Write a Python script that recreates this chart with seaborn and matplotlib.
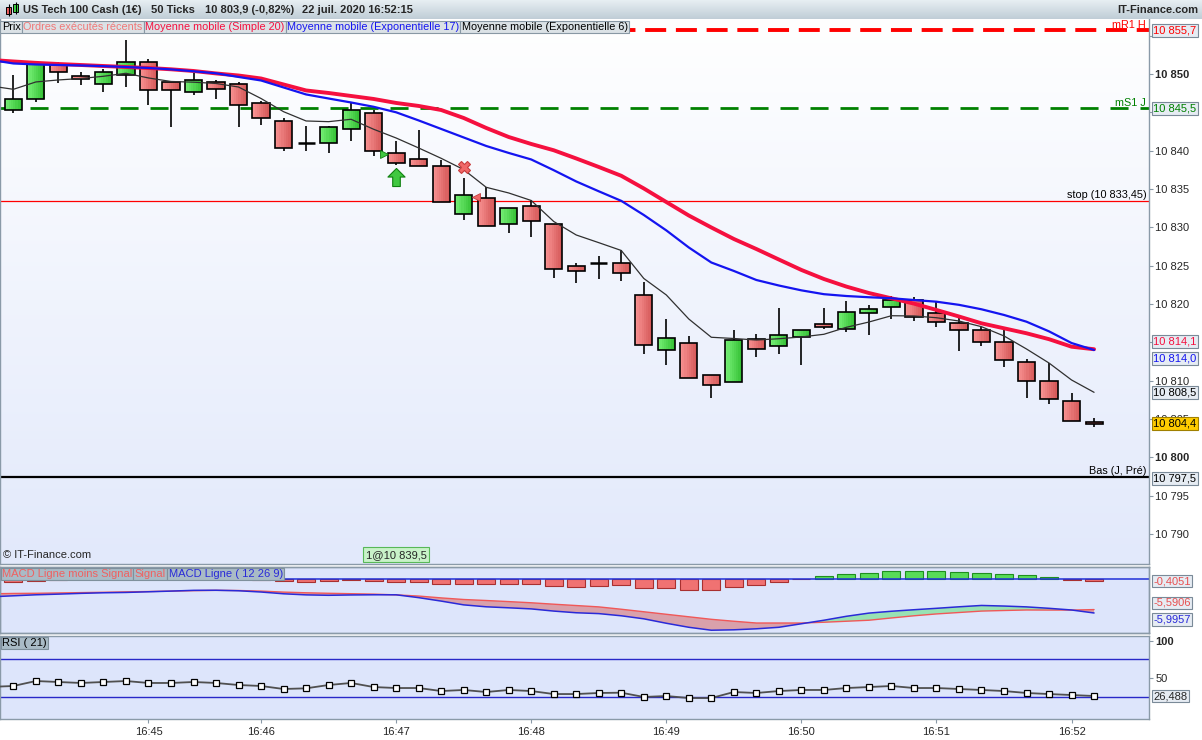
import numpy as np
import pandas as pd
import matplotlib
matplotlib.use("Agg")
import matplotlib.pyplot as plt
import matplotlib.transforms as mtransforms
from matplotlib.colors import LinearSegmentedColormap, to_rgb
from matplotlib.patches import Rectangle
from matplotlib.path import Path
import seaborn as sns

W, H = 1202, 740

# ---------------- data (50-tick candles) ----------------
opens = [10845.3, 10846.7, 10851.3, 10849.8, 10848.7, 10849.9, 10851.5, 10848.9, 10847.6, 10848.9,
         10848.7, 10846.2, 10843.9, 10841.0, 10841.0, 10842.8, 10844.9, 10839.7, 10838.9, 10838.0,
         10831.8, 10833.8, 10830.4, 10832.8, 10830.4, 10824.9, 10825.4, 10825.3, 10821.2, 10814.0,
         10814.9, 10810.8, 10809.8, 10815.4, 10814.5, 10815.7, 10817.4, 10816.8, 10818.8, 10819.6,
         10820.5, 10818.8, 10817.5, 10816.6, 10815.0, 10812.5, 10809.9, 10807.4, 10804.6]
highs = [10849.9, 10851.4, 10851.6, 10850.3, 10850.6, 10854.4, 10852.0, 10848.9, 10850.1, 10849.2,
         10848.9, 10846.5, 10844.2, 10843.2, 10843.2, 10846.4, 10845.3, 10841.3, 10842.7, 10838.8,
         10836.4, 10835.2, 10832.5, 10833.6, 10830.4, 10825.3, 10826.3, 10827.0, 10822.9, 10818.0,
         10815.8, 10810.8, 10816.6, 10816.1, 10819.5, 10816.6, 10819.5, 10820.4, 10819.9, 10821.0,
         10820.9, 10820.4, 10818.3, 10817.0, 10817.0, 10812.8, 10812.3, 10808.4, 10805.1]
lows = [10844.9, 10846.4, 10848.8, 10848.6, 10847.6, 10848.3, 10845.9, 10843.1, 10847.3, 10846.7,
        10843.1, 10843.4, 10839.9, 10840.0, 10839.7, 10841.3, 10839.3, 10838.1, 10838.0, 10833.3,
        10830.9, 10830.2, 10829.2, 10828.8, 10823.4, 10822.8, 10823.3, 10823.0, 10813.5, 10812.0,
        10810.4, 10807.7, 10809.8, 10813.1, 10813.5, 10812.0, 10816.8, 10816.3, 10816.0, 10818.0,
        10817.8, 10817.0, 10813.9, 10814.5, 10811.8, 10807.8, 10806.9, 10804.7, 10803.9]
closes = [10846.7, 10851.3, 10850.2, 10849.3, 10850.2, 10851.5, 10847.9, 10847.9, 10849.2, 10848.1,
          10845.9, 10844.2, 10840.4, 10841.0, 10843.1, 10845.3, 10840.0, 10838.4, 10838.0, 10833.3,
          10834.2, 10830.2, 10832.5, 10830.8, 10824.5, 10824.3, 10825.4, 10824.0, 10814.6, 10815.5,
          10810.4, 10809.5, 10815.3, 10814.1, 10816.0, 10816.6, 10817.0, 10819.0, 10819.4, 10820.5,
          10818.3, 10817.7, 10816.6, 10815.1, 10812.7, 10810.0, 10807.6, 10804.7, 10804.4]

# indicator values start one candle before the first visible one
ind_idx = list(range(-1, 49))
sma20 = [10851.83, 10851.63, 10851.45, 10851.30, 10851.17, 10851.04, 10850.91, 10850.78, 10850.61, 10850.39,
         10850.07, 10849.80, 10849.41, 10848.63, 10847.85, 10847.52, 10847.13, 10846.74, 10846.22, 10845.83,
         10845.30, 10844.26, 10842.96, 10841.78, 10840.87, 10840.05, 10838.98, 10837.87, 10836.72, 10835.07,
         10833.30, 10831.54, 10829.98, 10828.48, 10827.17, 10825.80, 10824.44, 10823.26, 10822.27, 10821.43,
         10820.74, 10820.05, 10819.22, 10818.37, 10817.48, 10816.83, 10816.18, 10815.41, 10814.43, 10814.10]
ema17 = [10851.83, 10851.37, 10851.24, 10851.17, 10851.11, 10851.02, 10850.91, 10850.78, 10850.60, 10850.35,
         10850.09, 10849.61, 10849.15, 10848.24, 10847.33, 10846.80, 10846.28, 10845.72, 10845.00, 10843.94,
         10842.83, 10841.72, 10840.61, 10839.70, 10838.85, 10837.45, 10835.98, 10834.70, 10833.45, 10831.61,
         10829.60, 10827.37, 10825.41, 10824.31, 10823.13, 10822.41, 10821.78, 10821.28, 10821.04, 10820.88,
         10820.75, 10820.52, 10820.30, 10819.89, 10819.31, 10818.57, 10817.69, 10816.43, 10814.91, 10814.00]
ema6 = [10848.43, 10848.00, 10848.96, 10849.22, 10849.41, 10849.70, 10850.09, 10849.48, 10849.02, 10848.93,
        10848.76, 10848.30, 10846.80, 10845.08, 10843.87, 10843.78, 10844.09, 10842.79, 10841.65, 10840.35,
        10839.00, 10837.53, 10835.22, 10834.48, 10833.50, 10830.76, 10829.00, 10828.00, 10826.98, 10823.33,
        10821.18, 10818.04, 10815.66, 10815.50, 10815.30, 10815.47, 10815.70, 10816.05, 10816.96, 10817.65,
        10818.47, 10818.44, 10818.21, 10817.78, 10817.04, 10815.83, 10814.13, 10812.30, 10810.09, 10808.48]
macd_line = [-4.07, -3.95, -3.83, -3.75, -3.66, -3.59, -3.55, -3.47, -3.39, -3.30,
             -3.29, -3.35, -3.50, -3.71, -3.84, -3.89, -3.85, -3.83, -3.83, -4.17,
             -4.58, -5.03, -5.26, -5.38, -5.51, -5.77, -5.97, -6.07, -6.33, -6.69,
             -7.22, -7.70, -8.05, -8.00, -7.88, -7.70, -7.28, -6.86, -6.39, -6.01,
             -5.79, -5.61, -5.44, -5.26, -5.10, -5.17, -5.27, -5.44, -5.64, -5.9957]
macd_signal = [-3.71, -3.67, -3.65, -3.61, -3.57, -3.53, -3.48, -3.44, -3.39, -3.34,
               -3.30, -3.32, -3.39, -3.51, -3.59, -3.65, -3.70, -3.75, -3.84, -3.98,
               -4.20, -4.39, -4.51, -4.64, -4.78, -4.95, -5.11, -5.27, -5.55, -5.85,
               -6.15, -6.45, -6.75, -6.98, -7.19, -7.19, -7.19, -7.10, -6.98, -6.86,
               -6.59, -6.33, -6.11, -5.94, -5.77, -5.70, -5.64, -5.65, -5.65, -5.5906]
rsi = [38.6, 39.8, 46.4, 45.1, 43.8, 45.1, 46.4, 43.8, 43.8, 45.1,
       43.8, 41.1, 39.8, 35.8, 36.7, 41.1, 43.8, 38.4, 37.1, 37.1,
       33.1, 34.5, 31.8, 34.5, 33.1, 29.1, 29.1, 30.5, 30.9, 25.2,
       26.5, 23.8, 23.8, 31.8, 30.5, 33.1, 34.5, 34.5, 37.1, 38.4,
       39.8, 37.1, 37.1, 35.8, 34.5, 33.1, 30.5, 29.1, 27.8, 26.488]
macd_hist = [-0.57, -0.35, -0.2, -0.1, 0.05, 0.2, 0.3, 0.3, 0.25, 0.15,
             0.0, -0.2, -0.40, -0.51, -0.34, -0.17, -0.34, -0.51, -0.51, -0.85,
             -0.85, -0.97, -0.97, -0.85, -1.19, -1.36, -1.19, -1.02, -1.53, -1.53,
             -1.87, -1.87, -1.36, -1.02, -0.51, -0.05, 0.39, 0.73, 1.01, 1.35,
             1.35, 1.35, 1.18, 1.01, 0.84, 0.56, 0.22, -0.17, -0.4051]

time_idx = [6, 11, 17, 23, 29, 35, 41, 47]
time_labels = ['16:45', '16:46', '16:47', '16:48', '16:49', '16:50', '16:51', '16:52']
price_ticks = list(range(10790, 10860, 5))

level_names = ['mR1 H', 'mS1 J', 'stop (10 833,45)', 'Bas (J, Pré)']
level_values = [10855.7, 10845.5, 10833.45, 10797.5]

order_idx = [17, 20]
order_price = [10839.5, 10834.0]


def fr(v, d=1):
    return f"{v:,.{d}f}".replace(',', ' ').replace('.', ',')


def px_rect(left, top, right, bottom):
    return [left / W, 1 - bottom / H, (right - left) / W, (bottom - top) / H]


sns.set_style("white")
plt.rcParams['font.family'] = ['Liberation Sans', 'DejaVu Sans']

fig = plt.figure(figsize=(W / 100, H / 100), dpi=100)
fig.patch.set_facecolor('white')
renderer = fig.canvas.get_renderer()

PR = 1149
SPINE = '#8a9aa8'
grad = np.linspace(0, 1, 256).reshape(-1, 1)

# header bar
HB = 19
ax_h = fig.add_axes(px_rect(0, 0, W, HB), zorder=5)
ax_h.imshow(grad, aspect='auto', extent=[0, W, HB, 0],
            cmap=LinearSegmentedColormap.from_list('hd', ['#e8eff3', '#bfcdd6']))
ax_h.set_xlim(0, W)
ax_h.set_ylim(HB, 0)
ax_h.set_axis_off()
ax_h.vlines([8.5, 15.5], [4, 2], [16, 14], color='black', lw=0.8)
ax_h.add_patch(Rectangle((6, 7), 5, 7, fc='#f06060', ec='black', lw=0.7))
ax_h.add_patch(Rectangle((13, 4), 5, 8, fc='#40d040', ec='black', lw=0.7))
for x, s in [(23, 'US Tech 100 Cash (1€)'), (151, '50 Ticks'),
             (205, '10 803,9 (-0,82%)'), (302, '22 juil. 2020 16:52:15')]:
    ax_h.text(x, 10, s, fontsize=8, fontweight='bold', va='center', ha='left')
ax_h.text(W - 4, 10, 'IT-Finance.com', fontsize=8, fontweight='bold', va='center', ha='right')

# ---------------- price panel ----------------
ax_bg = fig.add_axes(px_rect(0, 17, PR, 564), zorder=0)
ax_bg.imshow(grad, aspect='auto', cmap=LinearSegmentedColormap.from_list('bg', ['#ffffff', '#e2e9fb']))
ax_bg.set_axis_off()
ax_p = fig.add_axes(px_rect(0, 17, PR, 564), zorder=1)
ax_p.patch.set_alpha(0)

cdf = pd.DataFrame({'idx': range(len(opens)), 'open': opens, 'high': highs,
                    'low': lows, 'close': closes})
up = cdf[cdf.close > cdf.open]
dn = cdf[cdf.close < cdf.open]
flat = cdf[cdf.close == cdf.open]

BW = 0.76
ax_p.vlines(cdf.idx, cdf.low, cdf.high, color='black', lw=1.2, zorder=3)
# bodies with a left-to-right shading
nstrip = 8
for sub, c_light, c_dark in [(up, '#74ee74', '#36c236'), (dn, '#f79090', '#d65a5a')]:
    lo = np.minimum(sub.open, sub.close)
    hgt = (sub.open - sub.close).abs()
    for k in range(nstrip):
        t = k / (nstrip - 1)
        col = tuple((1 - t) * np.array(to_rgb(c_light)) + t * np.array(to_rgb(c_dark)))
        ax_p.bar(sub.idx - BW / 2 + (k + 0.5) * BW / nstrip, hgt, bottom=lo, width=BW / nstrip * 1.05,
                 color=col, lw=0, zorder=4)
    ax_p.bar(sub.idx, hgt, bottom=lo, width=BW, facecolor='none', edgecolor='black', lw=1.2, zorder=4.5)
ax_p.hlines(flat.open, flat.idx - BW / 2, flat.idx + BW / 2, color='black', lw=1.8, zorder=4)

# support / resistance levels
ax_p.axhline(level_values[0], color='#ff0000', lw=2.8, dashes=(5.4, 2.5), zorder=2)
ax_p.axhline(level_values[1], color='#008000', lw=2.0, dashes=(6.5, 4.3), zorder=2)
ax_p.axhline(level_values[2], color='#ff0000', lw=0.9, zorder=2)
ax_p.axhline(level_values[3], color='black', lw=1.6, zorder=2)

blend_p = mtransforms.blended_transform_factory(ax_p.transAxes, ax_p.transData)
for name, val, col in zip(level_names, level_values, ['#ff0000', '#008000', 'black', 'black']):
    ax_p.annotate(name, xy=(1, val), xycoords=blend_p, xytext=(-2, 0.5), textcoords='offset points',
                  ha='right', va='bottom', fontsize=7.8, color=col, annotation_clip=False, zorder=6)

# moving averages
ma = pd.DataFrame({'idx': ind_idx, 'sma20': sma20, 'ema17': ema17, 'ema6': ema6})
sns.lineplot(data=ma, x='idx', y='sma20', ax=ax_p, color='#f5103f', lw=2.8, zorder=5)
sns.lineplot(data=ma, x='idx', y='ema17', ax=ax_p, color='#1414f0', lw=1.6, zorder=6)
sns.lineplot(data=ma, x='idx', y='ema6', ax=ax_p, color='#303030', lw=0.9, zorder=6)

# executed orders
buy_i, sell_i = order_idx
arrow = Path([(0, 1), (0.95, 0.05), (0.42, 0.05), (0.42, -1), (-0.42, -1), (-0.42, 0.05), (-0.95, 0.05), (0, 1)])
ax_p.plot(buy_i, lows[buy_i] - 1.6, marker=arrow, ms=13, mfc='#40c840', mec='#108010', mew=0.8, zorder=7)
ax_p.plot(buy_i - 0.55, order_price[0], marker='>', ms=6, mfc='#40c840', mec='#108010', mew=0.6, zorder=7)
ax_p.plot(sell_i, highs[sell_i] + 1.5, marker='X', ms=9, mfc='#f06868', mec='#c83c3c', mew=0.8, zorder=7)
ax_p.plot(sell_i + 0.55, order_price[1], marker='<', ms=6, mfc='#f06868', mec='#c83c3c', mew=0.6, zorder=7)
blend_px = mtransforms.blended_transform_factory(ax_p.transData, ax_p.transAxes)
ax_p.text(buy_i, 0.017, f"1@{fr(order_price[0])}", transform=blend_px, ha='center', va='center',
          fontsize=8, bbox=dict(boxstyle='square,pad=0.2', fc='#c8f2c8', ec='#58b858', lw=0.8), zorder=7)
ax_p.text(3 / PR, 0.017, '© IT-Finance.com', transform=ax_p.transAxes, ha='left', va='center', fontsize=8)

ax_p.set_ylim(10786.09, 10857.43)
ax_p.yaxis.tick_right()
# labels fully covered by the value boxes are left blank
covered = {10845, 10855, 10815}
ax_p.set_yticks(price_ticks, ['' if v in covered else fr(v, 0) for v in price_ticks])
for v, lab in zip(price_ticks, ax_p.get_yticklabels()):
    if v % 50 == 0:
        lab.set_fontweight('bold')
        lab.set_fontsize(9)
ax_p.tick_params(axis='y', right=True, left=False, length=3, color=SPINE, labelsize=8, pad=1.5)
ax_p.tick_params(axis='x', bottom=False, labelbottom=False)

box_kw = dict(boxstyle='square,pad=0.12', fc='#e6ecf3', ec='#7a8a98', lw=0.8)
right_labels = [(10855.7, '#ff0000', 0, box_kw), (10845.5, '#008000', 0, box_kw),
                (sma20[-1], '#f5103f', 5.8, box_kw), (ema17[-1], '#1414f0', -6.2, box_kw),
                (ema6[-1], 'black', 0, box_kw),
                (closes[-1], 'black', 0, dict(box_kw, fc='#ffcc00', ec='#a08000')),
                (level_values[3], 'black', -1.5, box_kw)]
for val, col, dy, bk in right_labels:
    ax_p.annotate(fr(val), xy=(1, val), xycoords=blend_p, xytext=(3.2, dy), textcoords='offset points',
                  ha='left', va='center', fontsize=8, color=col, bbox=bk, annotation_clip=False, zorder=8)

# ---------------- MACD panel ----------------
ax_m = fig.add_axes(px_rect(0, 567, PR, 633), sharex=ax_p, zorder=1)
ax_m.set_facecolor('#dde5fb')
hist_idx = list(range(len(macd_hist)))
hist = np.array(macd_hist)
ax_m.bar(hist_idx, hist, width=0.8, color=np.where(hist >= 0, '#58dc58', '#f07272'),
         edgecolor=np.where(hist >= 0, '#1f8f1f', '#a83030'), lw=0.8, zorder=2)
ax_m.axhline(0, color='#2030d8', lw=1.1, zorder=3)
ax_m.set_ylim(-9.22, 1.97)
ax_m.tick_params(axis='both', left=False, right=False, bottom=False, labelbottom=False,
                 labelleft=False)

ax_ml = ax_m.twinx()
ml = np.array(macd_line)
sg = np.array(macd_signal)
ax_ml.fill_between(ind_idx, ml, sg, where=ml <= sg, interpolate=True, color='#d9a1ab', lw=0, zorder=1)
ax_ml.fill_between(ind_idx, ml, sg, where=ml >= sg, interpolate=True, color='#98e2b4', lw=0, zorder=1)
sns.lineplot(x=ind_idx, y=macd_signal, ax=ax_ml, color='#f05858', lw=1.0, zorder=2)
sns.lineplot(x=ind_idx, y=macd_line, ax=ax_ml, color='#2a2ad8', lw=1.1, zorder=3)
ax_ml.set_ylim(-8.38, -0.52)
ax_ml.tick_params(axis='y', right=False, labelright=False)

blend_m = mtransforms.blended_transform_factory(ax_m.transAxes, ax_m.transData)
blend_ml = mtransforms.blended_transform_factory(ax_ml.transAxes, ax_ml.transData)
ax_m.annotate(fr(macd_hist[-1], 4), xy=(1, macd_hist[-1]), xycoords=blend_m, xytext=(3.2, 0),
              textcoords='offset points', ha='left', va='center', fontsize=8, color='#e85050',
              bbox=box_kw, annotation_clip=False)
ax_ml.annotate(fr(macd_signal[-1], 4), xy=(1, macd_signal[-1]), xycoords=blend_ml, xytext=(3.2, 4.8),
               textcoords='offset points', ha='left', va='center', fontsize=8, color='#e85050',
               bbox=box_kw, annotation_clip=False)
ax_ml.annotate(fr(macd_line[-1], 4), xy=(1, macd_line[-1]), xycoords=blend_ml, xytext=(3.2, -4.8),
               textcoords='offset points', ha='left', va='center', fontsize=8, color='#2a2ad8',
               bbox=box_kw, annotation_clip=False)

# ---------------- RSI panel ----------------
ax_r = fig.add_axes(px_rect(0, 636, PR, 719), sharex=ax_p, zorder=1)
ax_r.set_facecolor('#dde5fb')
ax_r.axhline(75, color='#2828c8', lw=1.0, zorder=2)
ax_r.axhline(25, color='#2828c8', lw=1.0, zorder=2)
sns.lineplot(x=ind_idx, y=rsi, ax=ax_r, color='#505050', lw=1.3, marker='s', markersize=4.5,
             markerfacecolor='white', markeredgecolor='black', markeredgewidth=0.9, zorder=4)
ax_r.set_ylim(-4.05, 106.2)
ax_r.yaxis.tick_right()
ax_r.set_yticks([50, 100], ['50', '100'])
ax_r.get_yticklabels()[1].set_fontweight('bold')
ax_r.get_yticklabels()[1].set_fontsize(9)
ax_r.tick_params(axis='y', right=True, left=False, length=3, color=SPINE, labelsize=8, pad=1.5)
blend_r = mtransforms.blended_transform_factory(ax_r.transAxes, ax_r.transData)
ax_r.annotate(fr(rsi[-1], 3), xy=(1, rsi[-1]), xycoords=blend_r, xytext=(3.2, 0),
              textcoords='offset points', ha='left', va='center', fontsize=8,
              bbox=box_kw, annotation_clip=False)

ax_r.set_xticks(time_idx, time_labels)
ax_r.tick_params(axis='x', bottom=True, length=3, color=SPINE, labelsize=8, pad=3)
ax_r.set_xlim(-0.595, 50.44)

for ax in (ax_p, ax_m, ax_ml, ax_r):
    ax.set_xlabel('')
    ax.set_ylabel('')
    for sp in ax.spines.values():
        sp.set_color(SPINE)
        sp.set_linewidth(1.0)


# ---------------- legend rows ----------------
def box_row(items, y, fs, face, edge, x0=0.5):
    pad = 0.12
    pad_px = pad * fs * 100 / 72
    x = x0
    for label, col in items:
        t = fig.text((x + pad_px) / W, 1 - y / H, label, color=col, fontsize=fs, va='center', ha='left',
                     bbox=dict(boxstyle=f'square,pad={pad}', fc=face, ec=edge, lw=0.8), zorder=10)
        x += t.get_window_extent(renderer).width + 2 * pad_px


box_row([('Prix', 'black'), ('Ordres exécutés récents', '#f07878'),
         ('Moyenne mobile (Simple 20)', '#f5103f'), ('Moyenne mobile (Exponentielle 17)', '#1414f0'),
         ('Moyenne mobile (Exponentielle 6)', 'black')], 27.2, 7.8, '#dbe2e6', '#8898a4')
box_row([('MACD Ligne moins Signal', '#f06060'), ('Signal', '#f06060'),
         ('MACD Ligne ( 12 26 9)', '#2a2ad8')], 574, 8, '#a9bbc6', '#7f909c')
box_row([('RSI ( 21)', 'black')], 643, 8, '#a9bbc6', '#7f909c')

fig.savefig('out.png', dpi=100)
